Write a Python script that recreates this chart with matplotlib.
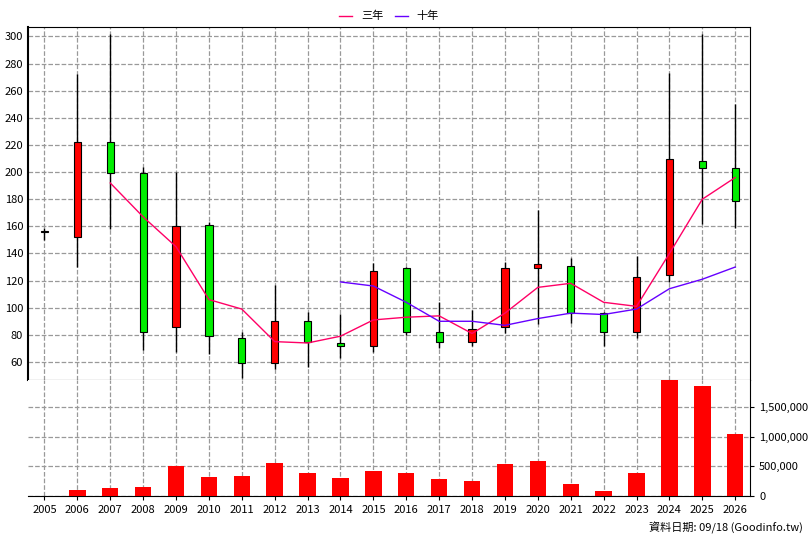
import numpy as np
import matplotlib.pyplot as plt
from matplotlib.ticker import FuncFormatter

plt.rcParams['font.family'] = ['Noto Sans CJK TC', 'DejaVu Sans']

years = list(range(2005, 2027))
highs = [159, 272, 302, 204, 200, 163, 82, 117, 97, 95, 133, 130, 104, 98, 134, 172, 137, 97, 138, 273, 302, 250]
lows = [150, 130, 158, 69, 67, 66, 48, 55, 56, 63, 67, 80, 70, 72, 81, 88, 89, 72, 78, 119, 162, 159]
body_top = [156.5, 222, 222, 199, 160, 161, 78, 90, 90, 74, 127, 129, 82, 84, 129, 132, 131, 96, 123, 210, 208, 203]
body_bot = [155.5, 152, 199, 82, 86, 79, 59, 59, 75, 72, 72, 82, 75, 75, 86, 129, 96, 82, 82, 124, 203, 179]
rising = [1, 1, 0, 0, 1, 0, 0, 1, 0, 0, 1, 0, 0, 1, 1, 1, 0, 0, 1, 1, 0, 0]
ma3_years = list(range(2007, 2027))
ma3 = [192, 167, 145, 106, 99, 75, 74, 79, 91, 93, 94, 81, 96, 115, 118, 104, 101, 140, 180, 196]
ma10_years = list(range(2014, 2027))
ma10 = [119, 116, 104, 90, 90, 87, 92, 96, 95, 99, 114, 121, 130]
volume = [0, 100000, 130000, 150000, 500000, 320000, 330000, 550000, 380000, 300000, 420000, 380000,
          280000, 250000, 530000, 580000, 200000, 80000, 380000, 1950000, 1850000, 1050000]

fig = plt.figure(figsize=(8.08, 5.40), dpi=100)
ax = fig.add_axes([28 / 808, 160 / 540, 722 / 808, 353 / 540])
axv = fig.add_axes([28 / 808, 44 / 540, 722 / 808, 116 / 540])

x = np.array(years)
for xi, lo, hi, bt, bb, up in zip(x, lows, highs, body_top, body_bot, rising):
    ax.vlines(xi, lo, hi, color='black', lw=1, zorder=2)
    ax.bar(xi, bt - bb, bottom=bb, width=0.22, color='#ff0000' if up else '#00ee00',
           edgecolor='black', lw=0.8, zorder=3)
ax.plot(ma3_years, ma3, color='#ff0066', lw=1, label='三年', zorder=4)
ax.plot(ma10_years, ma10, color='#6600ff', lw=1, label='十年', zorder=4)

ax.set_xlim(2004.5, 2026.45)
ax.set_ylim(46.7, 307)
ax.set_yticks(range(60, 301, 20))
ax.set_xticks(years)
ax.tick_params(labelbottom=False, length=0, labelsize=8)
ax.grid(True, ls='--', color='#999999', lw=0.9)
ax.legend(loc='lower center', bbox_to_anchor=(0.5, 1.0), ncol=2, frameon=False,
          fontsize=8, handlelength=1.2, columnspacing=1, borderaxespad=0.1)
ax.spines['left'].set_linewidth(1.5)

axv.bar(x, volume, width=0.5, color='#ff0000', zorder=3)
axv.set_xlim(2004.5, 2026.45)
axv.set_ylim(0, 1950000)
axv.set_xticks(years)
axv.set_yticks([0, 500000, 1000000, 1500000])
axv.yaxis.set_major_formatter(FuncFormatter(lambda v, p: f'{int(v):,}'))
axv.yaxis.tick_right()
axv.tick_params(labelsize=8, length=3)
axv.grid(True, ls='--', color='#999999', lw=0.9)
for s in ['top', 'left']:
    axv.spines[s].set_visible(False)

fig.text(803 / 808, 0.012, '資料日期: 09/18 (Goodinfo.tw)', ha='right', va='bottom', fontsize=8)
fig.savefig('out.png', dpi=100)
